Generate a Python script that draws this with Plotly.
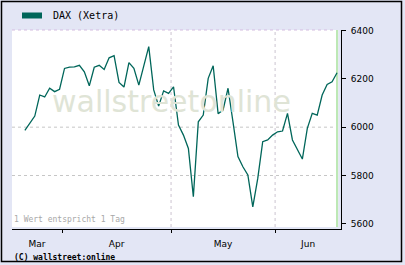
import pandas as pd
import plotly.graph_objects as go

SERIES_NAME = "DAX (Xetra)"
START_DATE = "2010-03-22"
END_DATE = "2010-06-17"
dates = pd.bdate_range(START_DATE, END_DATE)
values = [5987, 6018, 6046, 6133, 6125, 6161, 6147, 6157, 6243, 6248,
          6249, 6256, 6229, 6171, 6248, 6256, 6239, 6287, 6296, 6185,
          6166, 6267, 6243, 6174, 6257, 6333, 6154, 6087, 6150, 6140,
          6167, 6009, 5967, 5912, 5712, 6022, 6050, 6202, 6254, 6056,
          6071, 6161, 6022, 5878, 5836, 5802, 5670, 5788, 5940, 5947,
          5967, 5981, 5984, 6057, 5947, 5910, 5868, 5995, 6057, 6050,
          6133, 6177, 6188, 6225]
month_labels = ["Mar", "Apr", "May", "Jun"]
y_ticks = [5600, 5800, 6000, 6200, 6400]
y_grid = [5800, 6000]
grid_months = ["May", "Jun"]
note_text = "1 Wert entspricht 1 Tag"
copyright_text = "(C) wallstreet:online"
watermark_text = "wallstreetonline"

LINE = "#00665a"
BG = "#e3e6f5"

# one value per trading day: x is the trading-day index
x_idx = list(range(len(dates)))
x_lo, x_hi = -2.6, 63.8
month_of = [d.strftime("%b") for d in dates]
bounds = [i - 0.5 for i in range(1, len(dates)) if month_of[i] != month_of[i - 1]]
edges = [x_lo] + bounds + [x_hi]
label_pos = [(edges[k] + edges[k + 1]) / 2 for k in range(len(month_labels))]
grid_x = [bounds[month_labels.index(m) - 1] for m in grid_months]

fig = go.Figure()
fig.add_trace(go.Scatter(x=x_idx, y=values, mode="lines",
                         line=dict(color=LINE, width=1.3),
                         name=SERIES_NAME, showlegend=False, hoverinfo="skip"))

W, H = 405, 265
L, R, T, B = 12, 64, 30, 36
pw = W - L - R
ph = H - T - B

def px(x):
    return (x - L) / pw

def py(y):
    return (H - B - y) / ph

shapes = []
shapes.append(dict(type="rect", xref="paper", yref="paper", x0=px(336), x1=px(338.3),
                   y0=py(227), y1=1, fillcolor="#bde8b5", line=dict(width=0), layer="below"))
shapes.append(dict(type="rect", xref="paper", yref="paper", x0=px(338.3), x1=1,
                   y0=0, y1=1, fillcolor=BG, line=dict(width=0), layer="below"))
shapes.append(dict(type="rect", xref="paper", yref="paper", x0=0, x1=1,
                   y0=0, y1=py(227), fillcolor=BG, line=dict(width=0), layer="below"))
shapes.append(dict(type="line", xref="paper", yref="paper", x0=0, x1=px(336), y0=1, y1=1,
                   line=dict(color="#d4bde0", width=1, dash="dot"), layer="below"))
for g in y_grid:
    shapes.append(dict(type="line", xref="paper", yref="y", x0=0, x1=px(336), y0=g, y1=g,
                       line=dict(color="#c6c6c6", width=1, dash="dot"), layer="below"))
for g in grid_x:
    shapes.append(dict(type="line", xref="x", yref="paper", x0=g, x1=g, y0=py(227), y1=1,
                       line=dict(color="#ccc4d0", width=1, dash="dot"), layer="below"))
shapes.append(dict(type="rect", xref="paper", yref="paper", x0=px(22), x1=px(42),
                   y0=py(18.5), y1=py(12.5), fillcolor=LINE, line=dict(width=0)))
shapes.append(dict(type="rect", xref="paper", yref="paper", x0=px(1.5), x1=px(401.5),
                   y0=py(261.5), y1=py(1.5), line=dict(color="black", width=1.5)))

annotations = [
    dict(text=watermark_text, xref="paper", yref="paper", x=px(171.5), y=py(101),
         showarrow=False, font=dict(family="DejaVu Sans", size=30, color="#dfe4d6"),
         xanchor="center", yanchor="middle"),
    dict(text=SERIES_NAME, xref="paper", yref="paper", x=px(50.5), y=py(15.5),
         showarrow=False, font=dict(family="DejaVu Sans Mono", size=10, color="black"),
         xanchor="left", yanchor="middle"),
    dict(text=note_text, xref="paper", yref="paper", x=px(11.5), y=py(219.5),
         showarrow=False, font=dict(family="DejaVu Sans Mono", size=8, color="#a8a8a8"),
         xanchor="left", yanchor="middle"),
    dict(text="<b>" + copyright_text + "</b>", xref="paper", yref="paper", x=px(11.5), y=py(256.5),
         showarrow=False, font=dict(family="DejaVu Sans Mono", size=8, color="black"),
         xanchor="left", yanchor="middle"),
]

fig.update_layout(
    width=W, height=H,
    margin=dict(l=L, r=R, t=T, b=B),
    paper_bgcolor=BG, plot_bgcolor="white",
    showlegend=False,
    shapes=shapes, annotations=annotations,
    xaxis=dict(range=[x_lo, x_hi],
               tickmode="array", tickvals=label_pos, ticktext=month_labels,
               ticks="", ticklabelstandoff=6,
               minor=dict(tickmode="array", tickvals=bounds, ticks="outside", ticklen=3,
                          tickcolor="black", tickwidth=1, showgrid=False),
               showline=True, linecolor="black", linewidth=1,
               showgrid=False, zeroline=False,
               tickfont=dict(family="DejaVu Sans", size=9, color="black")),
    yaxis=dict(side="right", range=[5578.6, 6402], tickvals=y_ticks,
               ticks="outside", ticklen=4, tickcolor="black", tickwidth=1,
               showline=True, linecolor="black", linewidth=1,
               showgrid=False, zeroline=False,
               ticklabelstandoff=3,
               tickfont=dict(family="DejaVu Sans", size=9, color="black")),
)

fig.write_html("out.html")
